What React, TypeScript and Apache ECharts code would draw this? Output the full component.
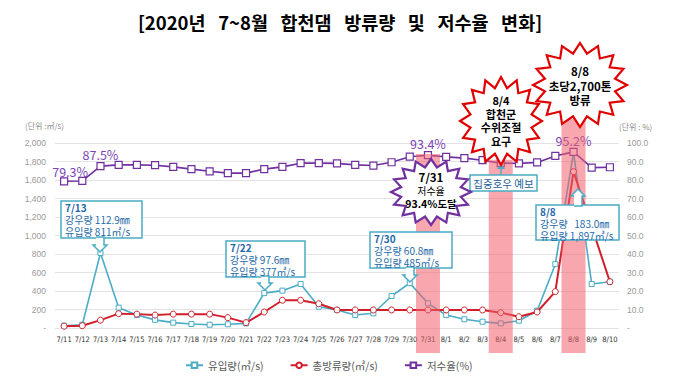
import React, { useEffect, useRef } from "react";
import * as echarts from "echarts";

const categories = [
  "7/11", "7/12", "7/13", "7/14", "7/15", "7/16", "7/17", "7/18", "7/19", "7/20",
  "7/21", "7/22", "7/23", "7/24", "7/25", "7/26", "7/27", "7/28", "7/29", "7/30",
  "7/31", "8/1", "8/2", "8/3", "8/4", "8/5", "8/6", "8/7", "8/8", "8/9", "8/10",
];
const inflow = [
  25, 35, 811, 220, 140, 88, 58, 43, 35, 40, 50, 377, 404, 475, 230, 195, 140, 159, 346, 485,
  267, 140, 94, 68, 50, 79, 187, 690, 1897, 476, 500,
];
const outflow = [
  20, 25, 85, 155, 150, 140, 150, 150, 150, 112, 58, 173, 300, 300, 262, 195, 195, 195, 195, 195,
  195, 195, 195, 195, 166, 122, 173, 393, 1690, 1095, 500,
];
const storage = [
  79.3, 79.5, 87.5, 88.2, 88.2, 88.0, 87.1, 85.9, 84.7, 83.7, 83.7, 85.9, 87.1, 89.1, 89.1, 89.0,
  88.2, 87.8, 89.6, 92.6, 93.4, 92.5, 91.8, 90.7, 89.1, 89.0, 89.5, 93.0, 95.2, 86.7, 86.9,
];
const labeledStorage = [0, 2, 20, 28];
// highlighted days: [category index, top of band on % axis]
const bands = [
  [20, 94],
  [24, 91],
  [28, 113],
];
const seriesNames = ["유입량(㎥/s)", "총방류량(㎥/s)", "저수율(%)"];

const KR = "'Noto Sans CJK KR', 'Noto Sans', sans-serif";
const BLUE = "#4bacc6";
const RED = "#d01f2a";
const PURPLE = "#7030a0";
const CALL_TXT = "#1f6aa8";

function starPoints(cx: number, cy: number, rx: number, ry: number, n: number, k: number) {
  const pts: number[][] = [];
  for (let i = 0; i < n * 2; i++) {
    const a = -Math.PI / 2 + (i * Math.PI) / n;
    const r = i % 2 === 0 ? 1 : k;
    pts.push([cx + rx * r * Math.cos(a), cy + ry * r * Math.sin(a)]);
  }
  return pts;
}

function star(cx: number, cy: number, rx: number, ry: number, color: string, lines: { t: string; y: number; s: number; b?: boolean }[]) {
  const els: any[] = [
    {
      type: "polygon",
      z: 100,
      shape: { points: starPoints(cx, cy, rx, ry, 16, 0.76) },
      style: { fill: "#fff", stroke: color, lineWidth: 2.2, lineJoin: "miter" },
    },
  ];
  lines.forEach((l) => {
    els.push({
      type: "text",
      z: 101,
      x: cx,
      y: l.y,
      style: {
        text: l.t,
        fill: "#000",
        font: `${l.b ? "bold " : ""}${l.s}px ${KR}`,
        align: "center",
        verticalAlign: "middle",
      },
    });
  });
  return els;
}

function callout(x: number, y: number, w: number, h: number, lines: string[], ax: number, tipY: number, up = false) {
  const els: any[] = [
    {
      type: "rect",
      z: 100,
      shape: { x, y, width: w, height: h },
      style: { fill: "#fff", stroke: BLUE, lineWidth: 1.5 },
    },
  ];
  const base = up ? y : y + h;
  const dir = up ? -1 : 1;
  const len = Math.abs(tipY - base);
  const sh = 4;
  const hw = 7;
  const hl = 7;
  const pts = [
    [ax - sh, base - dir * 1],
    [ax + sh, base - dir * 1],
    [ax + sh, base + dir * (len - hl)],
    [ax + hw, base + dir * (len - hl)],
    [ax, base + dir * len],
    [ax - hw, base + dir * (len - hl)],
    [ax - sh, base + dir * (len - hl)],
  ];
  els.push({
    type: "polygon",
    z: 101,
    shape: { points: pts },
    style: { fill: "#fff", stroke: "none" },
  });
  els.push({
    type: "polyline",
    z: 102,
    shape: { points: pts },
    style: { fill: "none", stroke: BLUE, lineWidth: 1.5 },
  });
  lines.forEach((t, i) => {
    els.push({
      type: "text",
      z: 103,
      x: x + 4,
      y: y + 6.5 + i * 11.8,
      style: {
        text: t,
        fill: CALL_TXT,
        font: `${i === 0 ? "bold " : ""}10px ${KR}`,
        lineHeight: 11,
        align: "left",
        verticalAlign: "middle",
      },
    });
  });
  return els;
}

export default function App() {
  const ref = useRef<HTMLDivElement>(null);

  useEffect(() => {
    if (!ref.current) return;
    document.body.style.margin = "0";
    const chart = echarts.init(ref.current, null, { renderer: "svg" });

    const storageData = storage.map((v, i) =>
      labeledStorage.includes(i)
        ? {
            value: v,
            label: {
              show: true,
              position: "top",
              distance: 1,
              offset: i === 0 ? [6, 2] : [0, 0],
              formatter: (p: any) => `${p.value}%`,
              color: "#7a44b8",
              fontSize: 12.5,
              fontFamily: KR,
            },
          }
        : v
    );

    const graphics: any[] = [
      {
        type: "text",
        z: 100,
        left: 25,
        top: 121,
        style: { text: "(단위 :㎥/s)", fill: "#8c8c8c", font: `8px ${KR}` },
      },
      {
        type: "text",
        z: 100,
        left: 619,
        top: 122,
        style: { text: "(단위 : %)", fill: "#8c8c8c", font: `8px ${KR}` },
      },
      ...callout(61, 201, 81, 37, ["7/13", "강우량 112.9㎜", "유입량 811㎥/s"], 100, 252),
      ...callout(226, 241, 79, 36, ["7/22", "강우량 97.6㎜", "유입량 377㎥/s"], 265, 290),
      ...callout(370, 232, 82, 36, ["7/30", "강우량 60.8㎜", "유입량 485㎥/s"], 410, 282),
      ...callout(536, 205, 83, 35, ["8/8", "강우량   183.0㎜", "유입량 1,897㎥/s"], 578, 189, true),
      {
        type: "rect",
        z: 100,
        shape: { x: 470, y: 175, width: 67, height: 16 },
        style: { fill: "#fff", stroke: BLUE, lineWidth: 1.5 },
      },
      {
        type: "text",
        z: 101,
        x: 503.5,
        y: 183,
        style: {
          text: "집중호우 예보",
          fill: "#1f5f9a",
          font: `10.5px ${KR}`,
          align: "center",
          verticalAlign: "middle",
        },
      },
      {
        type: "line",
        z: 99,
        shape: { x1: 501, y1: 164, x2: 501, y2: 175 },
        style: { stroke: BLUE, lineWidth: 1.5 },
      },
      {
        type: "polygon",
        z: 99,
        shape: { points: [[497, 169], [505, 169], [501, 164]] },
        style: { fill: BLUE },
      },
      ...star(431, 192, 40, 33, PURPLE, [
        { t: "7/31", y: 177, s: 11.5, b: true },
        { t: "저수율", y: 190, s: 10 },
        { t: "93.4%도달", y: 203, s: 10.5, b: true },
      ]),
      ...star(501, 121, 41, 44, "#e00000", [
        { t: "8/4", y: 100, s: 11, b: true },
        { t: "합천군", y: 113.5, s: 11, b: true },
        { t: "수위조절", y: 127, s: 11, b: true },
        { t: "요구", y: 140.5, s: 11, b: true },
      ]),
      ...star(580, 85, 47, 42, "#e00000", [
        { t: "8/8", y: 71, s: 11.5, b: true },
        { t: "초당2,700톤", y: 85.5, s: 11.5, b: true },
        { t: "방류", y: 100, s: 11.5, b: true },
      ]),
    ];

    chart.setOption({
      animation: false,
      backgroundColor: "#fff",
      title: {
        text: "[2020년   7~8월   합천댐   방류량   및   저수율   변화]",
        left: 335,
        textAlign: "center",
        top: 8,
        textStyle: { fontSize: 18.5, fontWeight: "bold", fontFamily: KR, color: "#000" },
      },
      legend: {
        data: seriesNames,
        left: 180,
        top: 355,
        itemWidth: 17,
        itemHeight: 7,
        itemGap: 26,
        textStyle: { fontSize: 10.5, color: "#595959", fontFamily: KR },
      },
      grid: { left: 55, right: 60, top: 143, bottom: 52 },
      xAxis: {
        type: "category",
        data: categories,
        boundaryGap: true,
        axisLine: { show: false },
        axisTick: { show: false },
        axisLabel: {
          fontSize: 7.5,
          color: "#333",
          margin: 7,
          interval: 0,
          fontFamily: "'DejaVu Sans Condensed', 'Liberation Sans Narrow', Roboto, sans-serif",
        },
      },
      yAxis: [
        {
          type: "value",
          min: 0,
          max: 2000,
          interval: 200,
          axisLine: { show: false },
          axisTick: { show: false },
          splitLine: { lineStyle: { color: "#e3e3e3", width: 1 } },
          axisLabel: {
            fontSize: 8.5,
            color: "#9a9a9a",
            margin: 9,
            formatter: (v: number) => (v === 0 ? "-" : v.toLocaleString("en-US")),
          },
        },
        {
          type: "value",
          min: 0,
          max: 100,
          interval: 10,
          axisLine: { show: false },
          axisTick: { show: false },
          splitLine: { show: false },
          axisLabel: {
            fontSize: 8.5,
            color: "#9a9a9a",
            margin: 8,
            formatter: (v: number) => (v === 0 ? "-" : v.toFixed(1)),
          },
        },
      ],
      series: [
        {
          name: seriesNames[0],
          type: "line",
          data: inflow,
          yAxisIndex: 0,
          symbol: "rect",
          symbolSize: 5,
          itemStyle: { color: "#fff", borderColor: BLUE, borderWidth: 1 },
          lineStyle: { color: BLUE, width: 1.6 },
          z: 3,
        },
        {
          name: seriesNames[1],
          type: "line",
          data: outflow,
          yAxisIndex: 0,
          symbol: "circle",
          symbolSize: 6,
          itemStyle: { color: "#fff", borderColor: RED, borderWidth: 1 },
          lineStyle: { color: RED, width: 2 },
          z: 4,
        },
        {
          name: seriesNames[2],
          type: "line",
          data: storageData,
          yAxisIndex: 1,
          symbol: "rect",
          symbolSize: 7,
          itemStyle: { color: "#fff", borderColor: PURPLE, borderWidth: 1.2 },
          lineStyle: { color: PURPLE, width: 1.6 },
          z: 5,
        },
        {
          name: "bands",
          type: "custom",
          xAxisIndex: 0,
          yAxisIndex: 1,
          data: bands,
          clip: false,
          silent: true,
          z: 20,
          renderItem: (params: any, api: any) => {
            const top = api.coord([api.value(0), api.value(1)]);
            const base = api.coord([api.value(0), 0]);
            return {
              type: "rect",
              shape: { x: top[0] - 12, y: top[1], width: 24, height: base[1] + 25 - top[1] },
              style: { fill: "rgba(240,95,105,0.55)" },
            };
          },
        },
      ],
      graphic: graphics,
    });

    return () => chart.dispose();
  }, []);

  return <div ref={ref} style={{ width: 679, height: 380 }} />;
}
